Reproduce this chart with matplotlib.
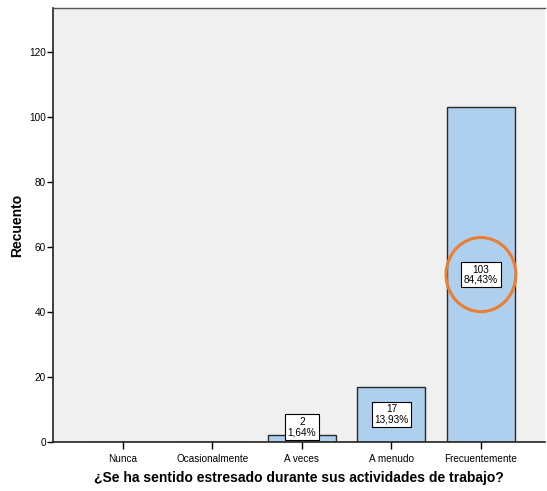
import matplotlib.pyplot as plt
from matplotlib.patches import Ellipse

plt.rcParams['font.family'] = ['Liberation Sans', 'DejaVu Sans']

categorias = ['Nunca', 'Ocasionalmente', 'A veces', 'A menudo', 'Frecuentemente']
recuento = [0, 0, 2, 17, 103]
porcentaje = ['0,00%', '0,00%', '1,64%', '13,93%', '84,43%']

fig = plt.figure(figsize=(5.47, 4.91), dpi=100)
ax = fig.add_axes([53 / 547, 49 / 491, 492 / 547, 434 / 491])
ax.set_facecolor('#f0f0f0')

x = range(len(categorias))
ax.bar(x, recuento, width=0.76, color='#aecfee', edgecolor='#2a2a2a', linewidth=1, zorder=2)

# etiquetas de recuento y porcentaje dentro de cada barra
for i, v in enumerate(recuento):
    if v == 0:
        continue
    ax.text(i, max(v / 2, 4.6), f'{v}\n{porcentaje[i]}', ha='center', va='center',
            fontsize=7.2, linespacing=1.0, zorder=3,
            bbox=dict(boxstyle='square,pad=0.28', fc='white', ec='black', lw=0.8))

# marca alrededor de la categoría más frecuente
ax.add_patch(Ellipse((4, 51.5), 0.78, 22.8, fill=False, ec='#ed7d31', lw=2.2, zorder=4))

ax.set_xlim(-0.78, 4.715)
ax.set_ylim(0, 133.5)
ax.set_xticks(list(x))
ax.set_xticklabels(categorias, fontsize=7.2)
ax.set_yticks(range(0, 121, 20))
ax.tick_params(axis='y', labelsize=7.2, length=4, width=1, pad=1)
ax.tick_params(axis='x', length=5, width=1, pad=4)

for s in ['left', 'bottom']:
    ax.spines[s].set_color('#222222')
    ax.spines[s].set_linewidth(1.2)
ax.spines['top'].set_color('#555555')
ax.spines['top'].set_linewidth(1)
ax.spines['right'].set_visible(False)

ax.set_ylabel('Recuento', fontsize=10, fontweight='bold', labelpad=4)
ax.set_xlabel('¿Se ha sentido estresado durante sus actividades de trabajo?',
              fontsize=10, fontweight='bold', labelpad=5)

fig.savefig('out.png', dpi=100)
